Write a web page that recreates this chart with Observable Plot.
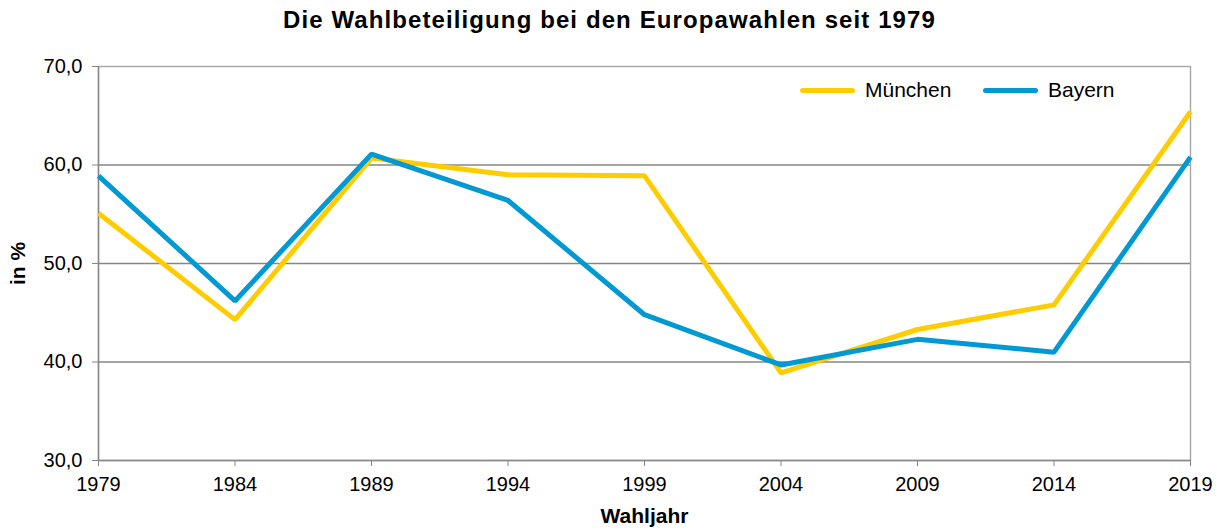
<!DOCTYPE html>
<html><head><meta charset="utf-8">
<script src="https://cdn.jsdelivr.net/npm/d3@7"></script>
<script src="https://cdn.jsdelivr.net/npm/@observablehq/plot@0.6"></script>
<style>
body{margin:0;background:#fff;font-family:"Liberation Sans",Arial,sans-serif;}
#wrap{position:relative;width:1223px;height:530px;overflow:hidden;}
#title{position:absolute;left:0;top:8px;width:1219px;line-height:24px;text-align:center;font-size:24px;letter-spacing:1.1px;font-weight:bold;color:#000;}
.sw{position:absolute;height:5px;border-radius:2.5px;}
.lt{position:absolute;font-size:21px;line-height:21px;color:#000;white-space:nowrap;}
#chart svg{display:block;}
#chart svg g[aria-label="x-axis tick label"] text,
#chart svg g[aria-label="y-axis tick label"] text{font-size:20px;}
#chart svg g[aria-label="x-axis tick label"],
#chart svg g[aria-label="y-axis tick label"]{font-size:20px;}
#chart svg g[aria-label="x-axis label"],
#chart svg g[aria-label="y-axis label"]{font-size:21px;font-weight:bold;}
</style></head>
<body><div id="wrap"><div id="chart"></div><div id="title">Die Wahlbeteiligung bei den Europawahlen seit 1979</div><div id="legend"></div></div>
<script>
const years = [1979, 1984, 1989, 1994, 1999, 2004, 2009, 2014, 2019];
const muenchen = [55.1, 44.3, 60.7, 59.0, 58.9, 38.9, 43.3, 45.8, 65.4];
const bayern = [58.9, 46.2, 61.1, 56.4, 44.8, 39.7, 42.3, 41.0, 60.8];
const seriesNames = ["München", "Bayern"];
const seriesColors = ["#FFCC00", "#0099D4"];
const yTicks = [30, 40, 50, 60, 70];

const rows = [];
years.forEach((y, i) => {
  rows.push({year: y, value: muenchen[i], series: seriesNames[0]});
  rows.push({year: y, value: bayern[i], series: seriesNames[1]});
});

const chart = Plot.plot({
  width: 1223, height: 530,
  marginLeft: 98, marginRight: 33, marginTop: 66, marginBottom: 70,
  style: {fontFamily: '"Liberation Sans", Arial, sans-serif', fontSize: "20px", color: "#000", background: "#fff", overflow: "visible"},
  x: {domain: [1979, 2019], ticks: years, tickFormat: d => String(d), label: null},
  y: {domain: [30, 70], ticks: yTicks, label: null},
  color: {domain: seriesNames, range: seriesColors},
  marks: [
    Plot.gridY([40, 50, 60], {stroke: "#868686", strokeOpacity: 1, strokeWidth: 1.4}),
    Plot.frame({stroke: "#A6A6A6", strokeWidth: 1.4}),
    Plot.ruleX([1979], {stroke: "#868686", strokeWidth: 1.4}),
    Plot.ruleY([30], {stroke: "#868686", strokeWidth: 1.4}),
    Plot.axisY(yTicks, {tickSize: 6, tickPadding: 10, stroke: "#868686", fontSize: 20, fill: "#000",
      tickFormat: d => d.toFixed(1).replace(".", ","), label: "in %", labelAnchor: "center", labelOffset: 88, labelArrow: "none"}),
    Plot.axisX(years, {tickSize: 6, tickPadding: 10, stroke: "#868686", fontSize: 20, fill: "#000",
      tickFormat: d => String(d), label: "Wahljahr", labelAnchor: "center", labelOffset: 62, labelArrow: "none"}),
    Plot.line(rows, {x: "year", y: "value", z: "series", stroke: "series", strokeWidth: 5, strokeLinejoin: "miter", strokeLinecap: "butt"})
  ]
});
document.getElementById("chart").appendChild(chart);

// legend (HTML, above the plot area)
const leg = document.getElementById("legend");
const legLeft = [800, 983];
seriesNames.forEach((n, i) => {
  const sw = document.createElement("div"); sw.className = "sw";
  sw.style.left = legLeft[i] + "px"; sw.style.top = "87.5px"; sw.style.width = "55px";
  sw.style.background = seriesColors[i];
  const t = document.createElement("div"); t.className = "lt";
  t.style.left = (legLeft[i] + 65) + "px"; t.style.top = "79px";
  t.textContent = n;
  leg.appendChild(sw); leg.appendChild(t);
});
</script></body></html>
